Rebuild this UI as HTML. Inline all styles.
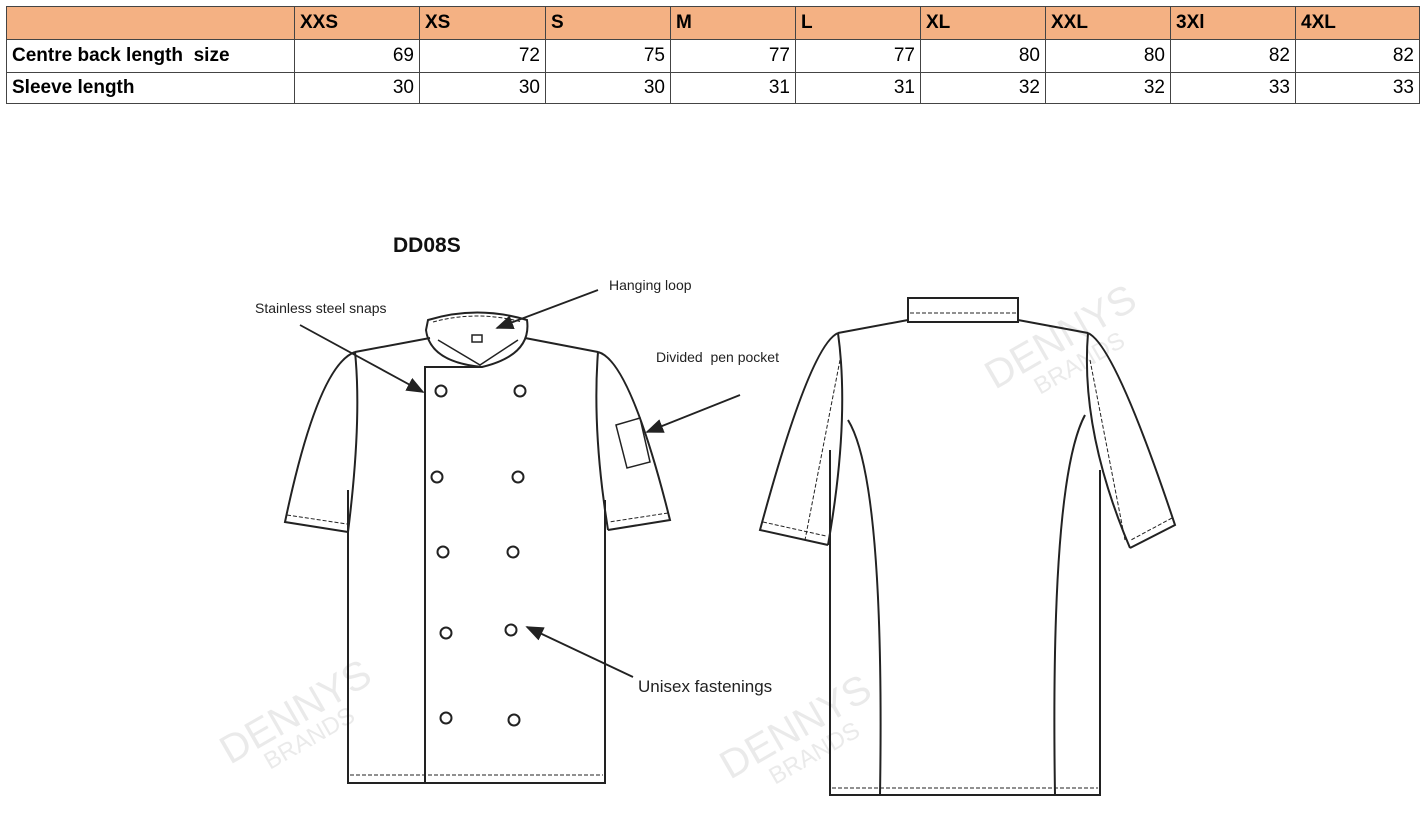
<!DOCTYPE html>
<html><head><meta charset="utf-8"><style>
body{margin:0;width:1426px;height:813px;background:#fff;position:relative;overflow:hidden;font-family:"Liberation Sans",sans-serif}
table{position:absolute;left:6px;top:6px;border-collapse:collapse;font-family:"Liberation Sans",sans-serif;font-size:19px}
td{border:1px solid #444;height:33px;padding:0 5px;box-sizing:border-box}
tr.s td{height:31px}
tr.h td{background:#f4b183;font-weight:bold;text-align:left}
td.n{text-align:right}
td.l{font-weight:bold}
</style></head><body>
<table>
<colgroup><col style="width:288px"><col style="width:125px"><col style="width:126px"><col style="width:125px"><col style="width:125px"><col style="width:125px"><col style="width:125px"><col style="width:125px"><col style="width:125px"><col style="width:124px"></colgroup>
<tr class="h"><td></td><td>XXS</td><td>XS</td><td>S</td><td>M</td><td>L</td><td>XL</td><td>XXL</td><td>3Xl</td><td>4XL</td></tr>
<tr><td class="l">Centre back length&nbsp; size</td><td class="n">69</td><td class="n">72</td><td class="n">75</td><td class="n">77</td><td class="n">77</td><td class="n">80</td><td class="n">80</td><td class="n">82</td><td class="n">82</td></tr>
<tr class="s"><td class="l">Sleeve length</td><td class="n">30</td><td class="n">30</td><td class="n">30</td><td class="n">31</td><td class="n">31</td><td class="n">32</td><td class="n">32</td><td class="n">33</td><td class="n">33</td></tr>
</table>
<svg width="1426" height="813" style="position:absolute;left:0;top:0" font-family="Liberation Sans, sans-serif">
<defs><marker id="a" markerWidth="10" markerHeight="8" refX="9" refY="4" orient="auto"><path d="M0,0 L10,4 L0,8 z" fill="#222"/></marker></defs>
<g fill="#ddd" font-size="40" opacity="0.6">
<text transform="translate(995,390) rotate(-30)">DENNYS</text>
<text transform="translate(1040,395) rotate(-30)" font-size="24">BRANDS</text>
<text transform="translate(230,765) rotate(-30)">DENNYS</text>
<text transform="translate(270,770) rotate(-30)" font-size="24">BRANDS</text>
<text transform="translate(730,780) rotate(-30)">DENNYS</text>
<text transform="translate(775,785) rotate(-30)" font-size="24">BRANDS</text>
</g>
<text x="393" y="252" font-size="21" font-weight="bold" fill="#111">DD08S</text>
<g font-size="14" fill="#222">
<text x="255" y="313">Stainless steel snaps</text>
<text x="609" y="290">Hanging loop</text>
<text x="656" y="362">Divided&nbsp; pen pocket</text>
<text x="638" y="692" font-size="17">Unisex fastenings</text>
</g>
<g stroke="#222" stroke-width="2" fill="none">
<path d="M355,352 L430,338 M525,338 L598,352"/>
<path d="M355,352 Q318,365 285,522 L348,532 M355,352 Q362,420 348,532"/>
<path d="M598,352 Q630,360 670,520 L608,530 M598,352 Q592,430 608,530"/>
<path d="M348,490 L348,783 L605,783 L605,500"/>
<path d="M425,783 L425,367 L482,367"/>
<path d="M428,320 Q477,305 527,320 Q532,355 482,367 Q430,362 426,330 Z"/>
<path d="M438,340 L480,365 L518,340" stroke-width="1.5"/>
<rect x="472" y="335" width="10" height="7" stroke-width="1.5"/>
<path d="M616,425 L640,418 L650,462 L627,468 Z" stroke-width="1.5"/>
<g stroke-width="2">
<circle cx="441" cy="391" r="5.5"/><circle cx="520" cy="391" r="5.5"/>
<circle cx="437" cy="477" r="5.5"/><circle cx="518" cy="477" r="5.5"/>
<circle cx="443" cy="552" r="5.5"/><circle cx="513" cy="552" r="5.5"/>
<circle cx="446" cy="633" r="5.5"/><circle cx="511" cy="630" r="5.5"/>
<circle cx="446" cy="718" r="5.5"/><circle cx="514" cy="720" r="5.5"/>
</g>
<g stroke-width="1" stroke-dasharray="4,2">
<path d="M350,775 L603,775"/><path d="M287,515 L347,524"/><path d="M668,513 L609,522"/>
<path d="M433,322 Q477,310 522,322"/>
</g>
<path d="M908,298 L1018,298 L1018,322 L908,322 Z"/>
<path d="M908,320 L838,333 M1018,320 L1088,333"/>
<path d="M838,333 Q810,345 760,530 L828,545 M838,333 Q850,420 828,545"/>
<path d="M1088,333 Q1115,345 1175,525 L1130,548 M1088,333 Q1080,430 1130,548"/>
<path d="M830,450 L830,795 L1100,795 L1100,470"/>
<path d="M848,420 Q885,480 880,795 M1085,415 Q1050,480 1055,795"/>
<g stroke-width="1" stroke-dasharray="4,2">
<path d="M910,313 L1016,313"/><path d="M832,788 L1098,788"/>
<path d="M763,522 L826,536"/><path d="M1172,518 L1131,540"/>
<path d="M840,360 L805,540"/><path d="M1090,360 L1125,540"/>
</g>
<g stroke-width="1.8">
<path d="M300,325 L423,392" marker-end="url(#a)"/>
<path d="M598,290 L497,328" marker-end="url(#a)"/>
<path d="M740,395 L647,432" marker-end="url(#a)"/>
<path d="M633,677 L527,627" marker-end="url(#a)"/>
</g>
</g>
</svg>
</body></html>
